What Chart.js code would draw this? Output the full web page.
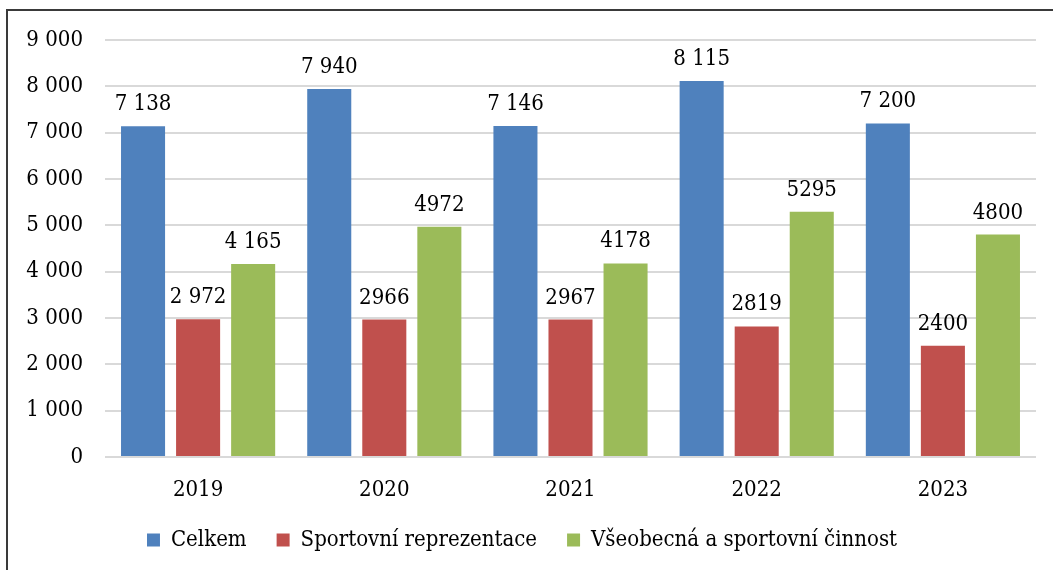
<!DOCTYPE html>
<html>
<head>
<meta charset="utf-8">
<script src="https://cdn.jsdelivr.net/npm/chart.js@4/dist/chart.umd.min.js"></script>
<style>
  html, body { margin: 0; padding: 0; background: #fff; }
  #wrap { position: relative; width: 1053px; height: 570px; }
  #frame {
    position: absolute; left: 6px; top: 9px; right: 0; bottom: 0;
    border-left: 2px solid #3a3a3a; border-top: 2px solid #3a3a3a;
    pointer-events: none;
  }
</style>
</head>
<body>
<div id="wrap">
  <canvas id="chart" width="1053" height="570"></canvas>
  <div id="frame"></div>
</div>
<script>
const years = ['2019', '2020', '2021', '2022', '2023'];
const seriesNames = ['Celkem', 'Sportovní reprezentace', 'Všeobecná a sportovní činnost'];
const celkem = [7138, 7940, 7146, 8115, 7200];
const reprezentace = [2972, 2966, 2967, 2819, 2400];
const cinnost = [4165, 4972, 4178, 5295, 4800];
// labels as printed in the source (formatting differs per value)
const celkemLabels = ['7 138', '7 940', '7 146', '8 115', '7 200'];
const reprezentaceLabels = ['2 972', '2966', '2967', '2819', '2400'];
const cinnostLabels = ['4 165', '4972', '4178', '5295', '4800'];
const colors = ['#4F81BD', '#C0504D', '#9BBB59'];

const FONT = '"DejaVu Serif Condensed", "DejaVu Serif"';
const FONT_SIZE = 22;

const valueLabels = {
  id: 'valueLabels',
  afterDatasetsDraw(chart) {
    const ctx = chart.ctx;
    ctx.save();
    ctx.font = FONT_SIZE + 'px ' + FONT;
    ctx.fillStyle = '#000';
    ctx.textAlign = 'center';
    ctx.textBaseline = 'alphabetic';
    chart.data.datasets.forEach((ds, i) => {
      const meta = chart.getDatasetMeta(i);
      meta.data.forEach((bar, j) => {
        ctx.fillText(ds.valueLabels[j], bar.x, bar.y - 16);
      });
    });
    ctx.restore();
  }
};

new Chart(document.getElementById('chart'), {
  type: 'bar',
  data: {
    labels: years,
    datasets: [
      { label: seriesNames[0], data: celkem, valueLabels: celkemLabels, backgroundColor: colors[0] },
      { label: seriesNames[1], data: reprezentace, valueLabels: reprezentaceLabels, backgroundColor: colors[1] },
      { label: seriesNames[2], data: cinnost, valueLabels: cinnostLabels, backgroundColor: colors[2] },
    ],
  },
  options: {
    responsive: false,
    animation: false,
    layout: { padding: { left: 8, right: 17, top: 40, bottom: 9 } },
    datasets: { bar: { categoryPercentage: 0.887, barPercentage: 0.8 } },
    plugins: {
      tooltip: { enabled: false },
      legend: {
        position: 'bottom',
        labels: {
          font: { family: FONT, size: FONT_SIZE },
          color: '#000',
          boxWidth: 13,
          boxHeight: 13,
          padding: 30,
        },
      },
    },
    scales: {
      x: {
        grid: { display: false },
        border: { display: false },
        ticks: { font: { family: FONT, size: FONT_SIZE }, color: '#000', padding: 12 },
        afterFit(scale) { scale.height = 42; },
      },
      y: {
        min: 0,
        max: 9000,
        ticks: {
          stepSize: 1000,
          padding: 22,
          font: { family: FONT, size: FONT_SIZE },
          color: '#000',
          callback: (v) => String(v).replace(/\B(?=(\d{3})+(?!\d))/g, ' '),
        },
        grid: { color: '#D9D9D9', lineWidth: 2, drawTicks: false },
        border: { display: false },
        afterFit(scale) { scale.width = 97; },
      },
    },
  },
  plugins: [valueLabels],
});
</script>
</body>
</html>
